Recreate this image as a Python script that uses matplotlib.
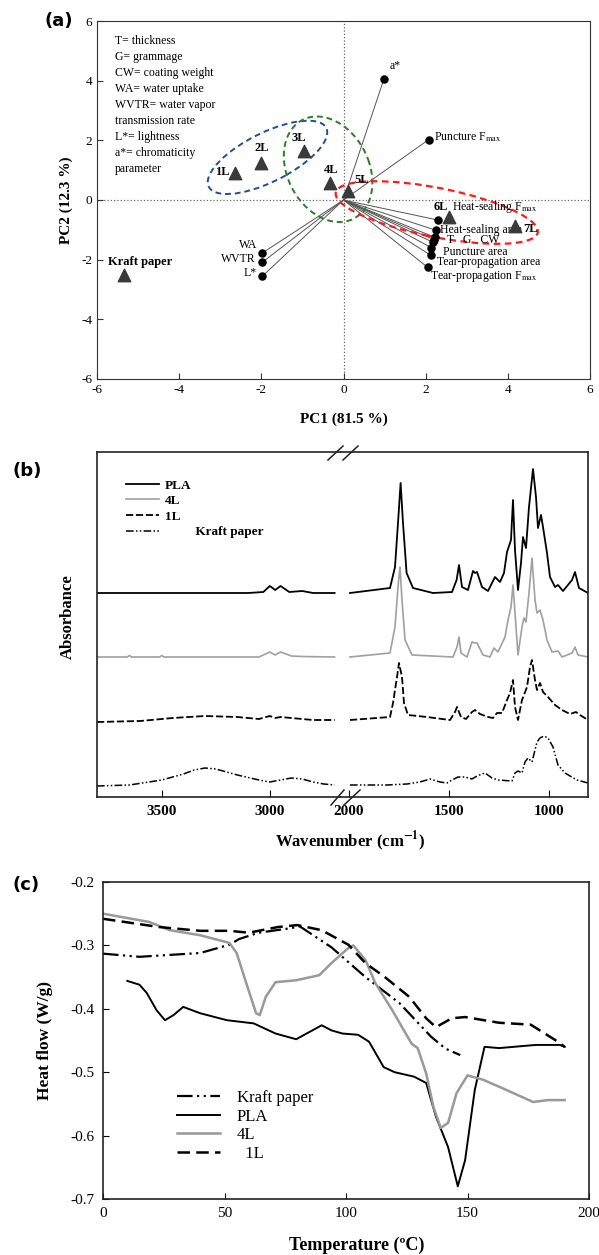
import numpy as np
import matplotlib
matplotlib.use('Agg')
import matplotlib.pyplot as plt
from matplotlib.patches import Ellipse
from matplotlib.lines import Line2D

plt.rcParams['font.family'] = ['Liberation Serif', 'DejaVu Serif']
plt.rcParams['mathtext.fontset'] = 'stix'
plt.rcParams['axes.unicode_minus'] = False

# ---------------- (a) PCA biplot ----------------
samples = ['1L', '2L', '3L', '4L', '5L', '6L', '7L', 'Kraft paper']
pc1_scores = [-2.65, -2.0, -0.95, -0.32, 0.12, 2.56, 4.17, -5.34]
pc2_scores = [0.91, 1.25, 1.65, 0.57, 0.30, -0.57, -0.88, -2.50]

var_labels = ['a*', 'Puncture F$_{\\mathrm{max}}$', 'WA', 'WVTR', 'L*',
              'Heat-sealing F$_{\\mathrm{max}}$', 'Heat-sealing area',
              'T   G   CW', '', '', 'Puncture area', 'Tear-propagation area',
              'Tear-propagation F$_{\\mathrm{max}}$']
pc1_load = [0.98, 2.07, -1.98, -1.98, -1.98, 2.29, 2.24, 2.22, 2.20, 2.18, 2.14, 2.12, 2.05]
pc2_load = [4.04, 2.02, -1.78, -2.09, -2.56, -0.67, -1.01, -1.25, -1.33, -1.42, -1.60, -1.85, -2.26]

abbrev_text = ('T= thickness\nG= grammage\nCW= coating weight\nWA= water uptake\n'
               'WVTR= water vapor\ntransmission rate\nL*= lightness\n'
               'a*= chromaticity\nparameter')

# ---------------- (b) FTIR spectra (a.u.) ----------------
pla_wn = [3800, 3100, 3030, 3000, 2975, 2950, 2910, 2850, 2800, 2700,
          1995, 1795, 1770, 1755, 1742, 1730, 1712, 1680, 1580, 1485,
          1462, 1450, 1435, 1405, 1380, 1370, 1360, 1335, 1305, 1270,
          1245, 1225, 1210, 1190, 1180, 1170, 1155, 1140, 1130, 1115,
          1100, 1080, 1065, 1055, 1040, 1030, 1010, 995, 970, 955,
          930, 885, 870, 850, 805]
pla_abs = [2.04, 2.04, 2.05, 2.11, 2.07, 2.11, 2.05, 2.06, 2.04, 2.04,
           2.04, 2.09, 2.30, 2.74, 3.14, 2.74, 2.24, 2.09, 2.04, 2.05,
           2.17, 2.32, 2.10, 2.07, 2.26, 2.24, 2.25, 2.10, 2.06, 2.20,
           2.15, 2.24, 2.45, 2.57, 2.97, 2.47, 2.07, 2.34, 2.60, 2.49,
           2.90, 3.28, 3.00, 2.69, 2.82, 2.70, 2.44, 2.20, 2.10, 2.12,
           2.06, 2.17, 2.25, 2.09, 2.04]

l4_wn = [3800, 3660, 3650, 3640, 3510, 3500, 3490, 3050, 3000, 2975, 2950, 2900, 2850, 2700,
         1995, 1795, 1770, 1755, 1745, 1735, 1720, 1685, 1480, 1460,
         1450, 1440, 1410, 1385, 1370, 1360, 1330, 1295, 1275, 1255,
         1220, 1205, 1190, 1180, 1165, 1155, 1135, 1125, 1115, 1100,
         1085, 1070, 1060, 1045, 1030, 1010, 985, 955, 935, 885,
         870, 855, 805]
l4_abs = [1.40, 1.40, 1.415, 1.40, 1.40, 1.415, 1.40, 1.40, 1.45, 1.42, 1.45, 1.41, 1.405, 1.40,
          1.40, 1.44, 1.70, 2.10, 2.30, 1.97, 1.57, 1.42, 1.40, 1.50,
          1.60, 1.44, 1.40, 1.55, 1.54, 1.54, 1.42, 1.40, 1.49, 1.45,
          1.60, 1.77, 1.90, 2.12, 1.70, 1.42, 1.70, 1.79, 1.75, 2.04,
          2.39, 1.97, 1.84, 1.87, 1.77, 1.57, 1.45, 1.46, 1.40, 1.44,
          1.50, 1.42, 1.40]

l1_wn = [3800, 3600, 3450, 3300, 3150, 3050, 3000, 2975, 2950, 2900, 2850, 2800, 2700,
         1995, 1795, 1780, 1760, 1750, 1735, 1725, 1705, 1610, 1495,
         1470, 1460, 1440, 1415, 1385, 1370, 1345, 1305, 1280, 1260,
         1235, 1210, 1195, 1180, 1170, 1155, 1135, 1125, 1110, 1095,
         1085, 1070, 1060, 1045, 1030, 1005, 970, 935, 895, 865,
         845, 805]
l1_abs = [0.75, 0.76, 0.79, 0.81, 0.80, 0.78, 0.81, 0.79, 0.80, 0.79, 0.78, 0.77, 0.77,
          0.77, 0.80, 0.94, 1.20, 1.34, 1.20, 0.94, 0.82, 0.80, 0.77,
          0.85, 0.90, 0.80, 0.78, 0.85, 0.87, 0.83, 0.80, 0.79, 0.84,
          0.84, 0.97, 1.04, 1.17, 0.90, 0.77, 0.97, 1.02, 1.10, 1.30,
          1.37, 1.17, 1.07, 1.14, 1.05, 1.00, 0.92, 0.87, 0.83, 0.85,
          0.82, 0.77]

kraft_wn = [3800, 3650, 3500, 3400, 3350, 3300, 3250, 3150, 3050, 3000, 2950, 2900, 2850, 2800, 2750, 2700,
            1995, 1810, 1710, 1645, 1595, 1545, 1510, 1485, 1455, 1420,
            1385, 1360, 1320, 1285, 1255, 1185, 1170, 1155, 1135, 1120,
            1105, 1085, 1060, 1045, 1025, 1005, 980, 955, 920, 895,
            860, 805]
kraft_abs = [0.11, 0.12, 0.17, 0.23, 0.27, 0.29, 0.28, 0.22, 0.17, 0.15, 0.17, 0.19, 0.18, 0.15, 0.13, 0.12,
             0.12, 0.12, 0.13, 0.15, 0.18, 0.15, 0.14, 0.17, 0.20, 0.20,
             0.18, 0.21, 0.24, 0.19, 0.17, 0.16, 0.24, 0.26, 0.24, 0.35,
             0.39, 0.35, 0.55, 0.59, 0.61, 0.59, 0.50, 0.32, 0.24, 0.21,
             0.17, 0.14]

# ---------------- (c) DSC ----------------
kraft_T = [0, 15, 40, 52, 56, 64, 77, 81, 94, 108, 122, 135, 141, 147]
kraft_hf = [-0.313, -0.318, -0.312, -0.299, -0.29, -0.28, -0.273, -0.27, -0.303, -0.35,
            -0.391, -0.444, -0.463, -0.473]

pla_T = [10, 15, 18, 22, 25.5, 29, 33, 40, 51, 62, 71, 79.5, 90, 94, 98.5, 105, 109.5,
         115.5, 120, 128, 133, 137, 142, 146, 149, 153, 157, 163, 178, 188, 190]
pla_hf = [-0.356, -0.362, -0.375, -0.402, -0.418, -0.41, -0.397, -0.407, -0.418, -0.423,
          -0.439, -0.448, -0.426, -0.434, -0.439, -0.441, -0.452, -0.492, -0.50, -0.507,
          -0.517, -0.57, -0.618, -0.68, -0.639, -0.528, -0.46, -0.462, -0.457, -0.457, -0.46]

l4_T = [0, 19, 27.5, 40, 52, 55, 59, 63, 64.5, 67, 71, 79.5, 89, 94, 101, 103, 108, 112,
        119, 127, 129.5, 133, 136, 139, 142, 145.5, 150, 156.5, 166, 177, 183, 190]
l4_hf = [-0.25, -0.263, -0.276, -0.284, -0.296, -0.312, -0.36, -0.407, -0.41, -0.381,
         -0.358, -0.355, -0.347, -0.328, -0.304, -0.30, -0.323, -0.359, -0.402, -0.455,
         -0.462, -0.502, -0.555, -0.588, -0.58, -0.533, -0.505, -0.512, -0.528, -0.547,
         -0.544, -0.544]

l1_T = [0, 23, 40, 52, 60, 72, 80, 90, 101, 108, 116, 126, 133, 137, 143.5, 149, 163,
        176, 186, 190]
l1_hf = [-0.258, -0.271, -0.277, -0.277, -0.28, -0.271, -0.268, -0.276, -0.299, -0.328,
         -0.35, -0.381, -0.415, -0.429, -0.415, -0.413, -0.422, -0.425, -0.449, -0.46]

W, H = 599, 1255
fig = plt.figure(figsize=(W / 100, H / 100), dpi=100)


def box(left, top, right, bottom):
    return [left / W, 1 - bottom / H, (right - left) / W, (bottom - top) / H]


def fpt(px, py):
    return px / W, 1 - py / H


# ======== panel (a) ========
ax = fig.add_axes(box(97, 21, 590, 379))
ax.set_xlim(-6, 6)
ax.set_ylim(-6, 6)
ax.axhline(0, color='#666666', ls=':', lw=0.9, zorder=0)
ax.axvline(0, color='#666666', ls=':', lw=0.9, zorder=0)

for x, y in zip(pc1_load, pc2_load):
    ax.plot([0, x], [0, y], color='#555555', lw=0.7, zorder=1)
ax.scatter(pc1_load, pc2_load, s=26, color='black', zorder=3)
ax.scatter(pc1_scores, pc2_scores, marker='^', s=80, color='#3a3a3a', zorder=4)

ax.add_patch(Ellipse((-1.85, 1.43), 3.5, 1.5, angle=38, fill=False,
                     ec='#1f4f9a', lw=1.4, ls=(0, (3, 2)), zorder=2))
ax.add_patch(Ellipse((-0.375, 1.03), 3.6, 2.05, angle=103, fill=False,
                     ec='#2f7a2a', lw=1.4, ls=(0, (3, 2)), zorder=2))
ax.add_patch(Ellipse((2.27, -0.42), 5.1, 1.62, angle=-16, fill=False,
                     ec='#ff1a1a', lw=1.6, ls=(0, (3, 2)), zorder=2))

sample_offsets = [(-5, 1, 'right'), (0, 15, 'center'), (-6, 13, 'center'), (1, 13, 'center'),
                  (13, 11, 'center'), (-8, 10, 'center'), (16, -3, 'center'), (-16, 13, 'left')]
for name, x, y, (dx, dy, ha) in zip(samples, pc1_scores, pc2_scores, sample_offsets):
    ax.annotate(name, (x, y), xytext=(dx, dy), textcoords='offset pixels',
                ha=ha, va='center', fontsize=9, fontweight='bold')

var_offsets = [(6, 13, 'left'), (5, 2, 'left'), (-5, 8, 'right'), (-7, 3, 'right'),
               (-5, 3, 'right'), (14, 13, 'left'), (4, 0, 'left'), (12, -3, 'left'),
               (0, 0, 'left'), (0, 0, 'left'), (12, -4, 'left'), (6, -7, 'left'),
               (2, -9, 'left')]
for name, x, y, (dx, dy, ha) in zip(var_labels, pc1_load, pc2_load, var_offsets):
    if name:
        ax.annotate(name, (x, y), xytext=(dx, dy), textcoords='offset pixels',
                    ha=ha, va='center', fontsize=8.5)

ax.text(0.037, 0.962, abbrev_text, transform=ax.transAxes, ha='left', va='top',
        fontsize=8.5, linespacing=1.45)

ax.set_xticks(np.arange(-6, 7, 2))
ax.set_yticks(np.arange(-6, 7, 2))
ax.tick_params(direction='in', length=4, labelsize=9.5, color='#333333')
for s in ax.spines.values():
    s.set_color('#333333')
ax.set_xlabel('PC1 (81.5 %)', fontsize=11, fontweight='bold', labelpad=12)
ax.set_ylabel('PC2 (12.3 %)', fontsize=11, fontweight='bold', labelpad=6)
fig.text(*fpt(45, 21), '(a)', family='DejaVu Sans', fontweight='bold', fontsize=13, va='center')

# ======== panel (b) ========
split = 341
axl = fig.add_axes(box(97, 452, split, 797))
axr = fig.add_axes(box(split, 452, 588, 797))
axl.set_xlim(3800, 3800 - (split - 97) / 0.216)
axr.set_xlim(1500 + (449 - split) / 0.2, 1500 - (588 - 449) / 0.2)
for a in (axl, axr):
    a.set_ylim(0, 3.45)
    a.set_yticks([])
    for s in a.spines.values():
        s.set_linewidth(1.2)
        s.set_color('#222222')
axl.spines['right'].set_visible(False)
axr.spines['left'].set_visible(False)

ftir = [('PLA', pla_wn, pla_abs, dict(color='black', lw=1.3, ls='-')),
        ('4L', l4_wn, l4_abs, dict(color='#a0a0a0', lw=1.2, ls='-')),
        ('1L', l1_wn, l1_abs, dict(color='black', lw=1.3, ls=(0, (4, 1.5)))),
        ('         Kraft paper', kraft_wn, kraft_abs,
         dict(color='black', lw=1.1, ls=(0, (5, 1.5, 1, 1.5, 1, 1.5))))]
for name, wn, ab, style in ftir:
    wn = np.array(wn)
    ab = np.array(ab)
    hi = wn >= 2600
    axl.plot(wn[hi], ab[hi], label=name, **style)
    axr.plot(wn[~hi], ab[~hi], **style)

axl.set_xticks([3500, 3000])
axr.set_xticks([2000, 1500, 1000])
for a in (axl, axr):
    a.tick_params(axis='x', direction='in', length=5, labelsize=11, pad=6)
    for lab in a.get_xticklabels():
        lab.set_fontweight('bold')

axl.legend(loc='upper left', bbox_to_anchor=(0.09, 0.94), frameon=False,
           prop={'size': 9.5, 'weight': 'bold'}, handlelength=2.5,
           handletextpad=0.5, labelspacing=0.25, borderpad=0)

for (x0, y0, x1, y1) in [(328, 460, 343, 446), (343, 460, 358, 446),
                         (331, 805, 344, 790), (344, 805, 360, 790)]:
    fig.add_artist(Line2D([x0 / W, x1 / W], [1 - y0 / H, 1 - y1 / H],
                          color='#222222', lw=1.1))

fig.text(*fpt(350, 841), 'Wavenumber (cm$^{\\mathbf{-1}}$)', ha='center', va='center',
         fontsize=12, fontweight='bold')
fig.text(*fpt(68, 617), 'Absorbance', ha='center', va='center', rotation=90,
         fontsize=12, fontweight='bold')
fig.text(*fpt(12, 471), '(b)', family='DejaVu Sans', fontweight='bold', fontsize=13, va='center')

# ======== panel (c) ========
axc = fig.add_axes(box(103, 882, 589, 1199))
axc.plot(kraft_T, kraft_hf, color='black', lw=1.6, ls=(0, (7, 2, 1, 2, 1, 2)), label='Kraft paper')
axc.plot(pla_T, pla_hf, color='black', lw=1.4, label='PLA')
axc.plot(l4_T, l4_hf, color='#999999', lw=1.8, label='4L')
axc.plot(l1_T, l1_hf, color='black', lw=1.8, ls=(0, (5, 2.5)), label='  1L')
axc.set_xlim(0, 200)
axc.set_ylim(-0.7, -0.2)
axc.set_xticks(np.arange(0, 201, 50))
axc.set_yticks(np.arange(-0.7, -0.19, 0.1))
axc.set_yticklabels(['%.1f' % v for v in np.arange(-0.7, -0.19, 0.1)])
axc.tick_params(direction='in', length=4, labelsize=11, pad=6)
for s in axc.spines.values():
    s.set_linewidth(1.2)
    s.set_color('#222222')
axc.legend(loc='upper left', bbox_to_anchor=(0.135, 0.37), frameon=False,
           fontsize=12, handlelength=2.6, handletextpad=1.0, labelspacing=0.15,
           borderpad=0)
fig.text(*fpt(357, 1245), 'Temperature (ºC)', ha='center', va='center',
         fontsize=13, fontweight='bold')
fig.text(*fpt(45, 1040), 'Heat flow (W/g)', ha='center', va='center', rotation=90,
         fontsize=12.5, fontweight='bold')
fig.text(*fpt(12, 885), '(c)', family='DejaVu Sans', fontweight='bold', fontsize=13, va='center')

fig.savefig('out.png', dpi=100)
